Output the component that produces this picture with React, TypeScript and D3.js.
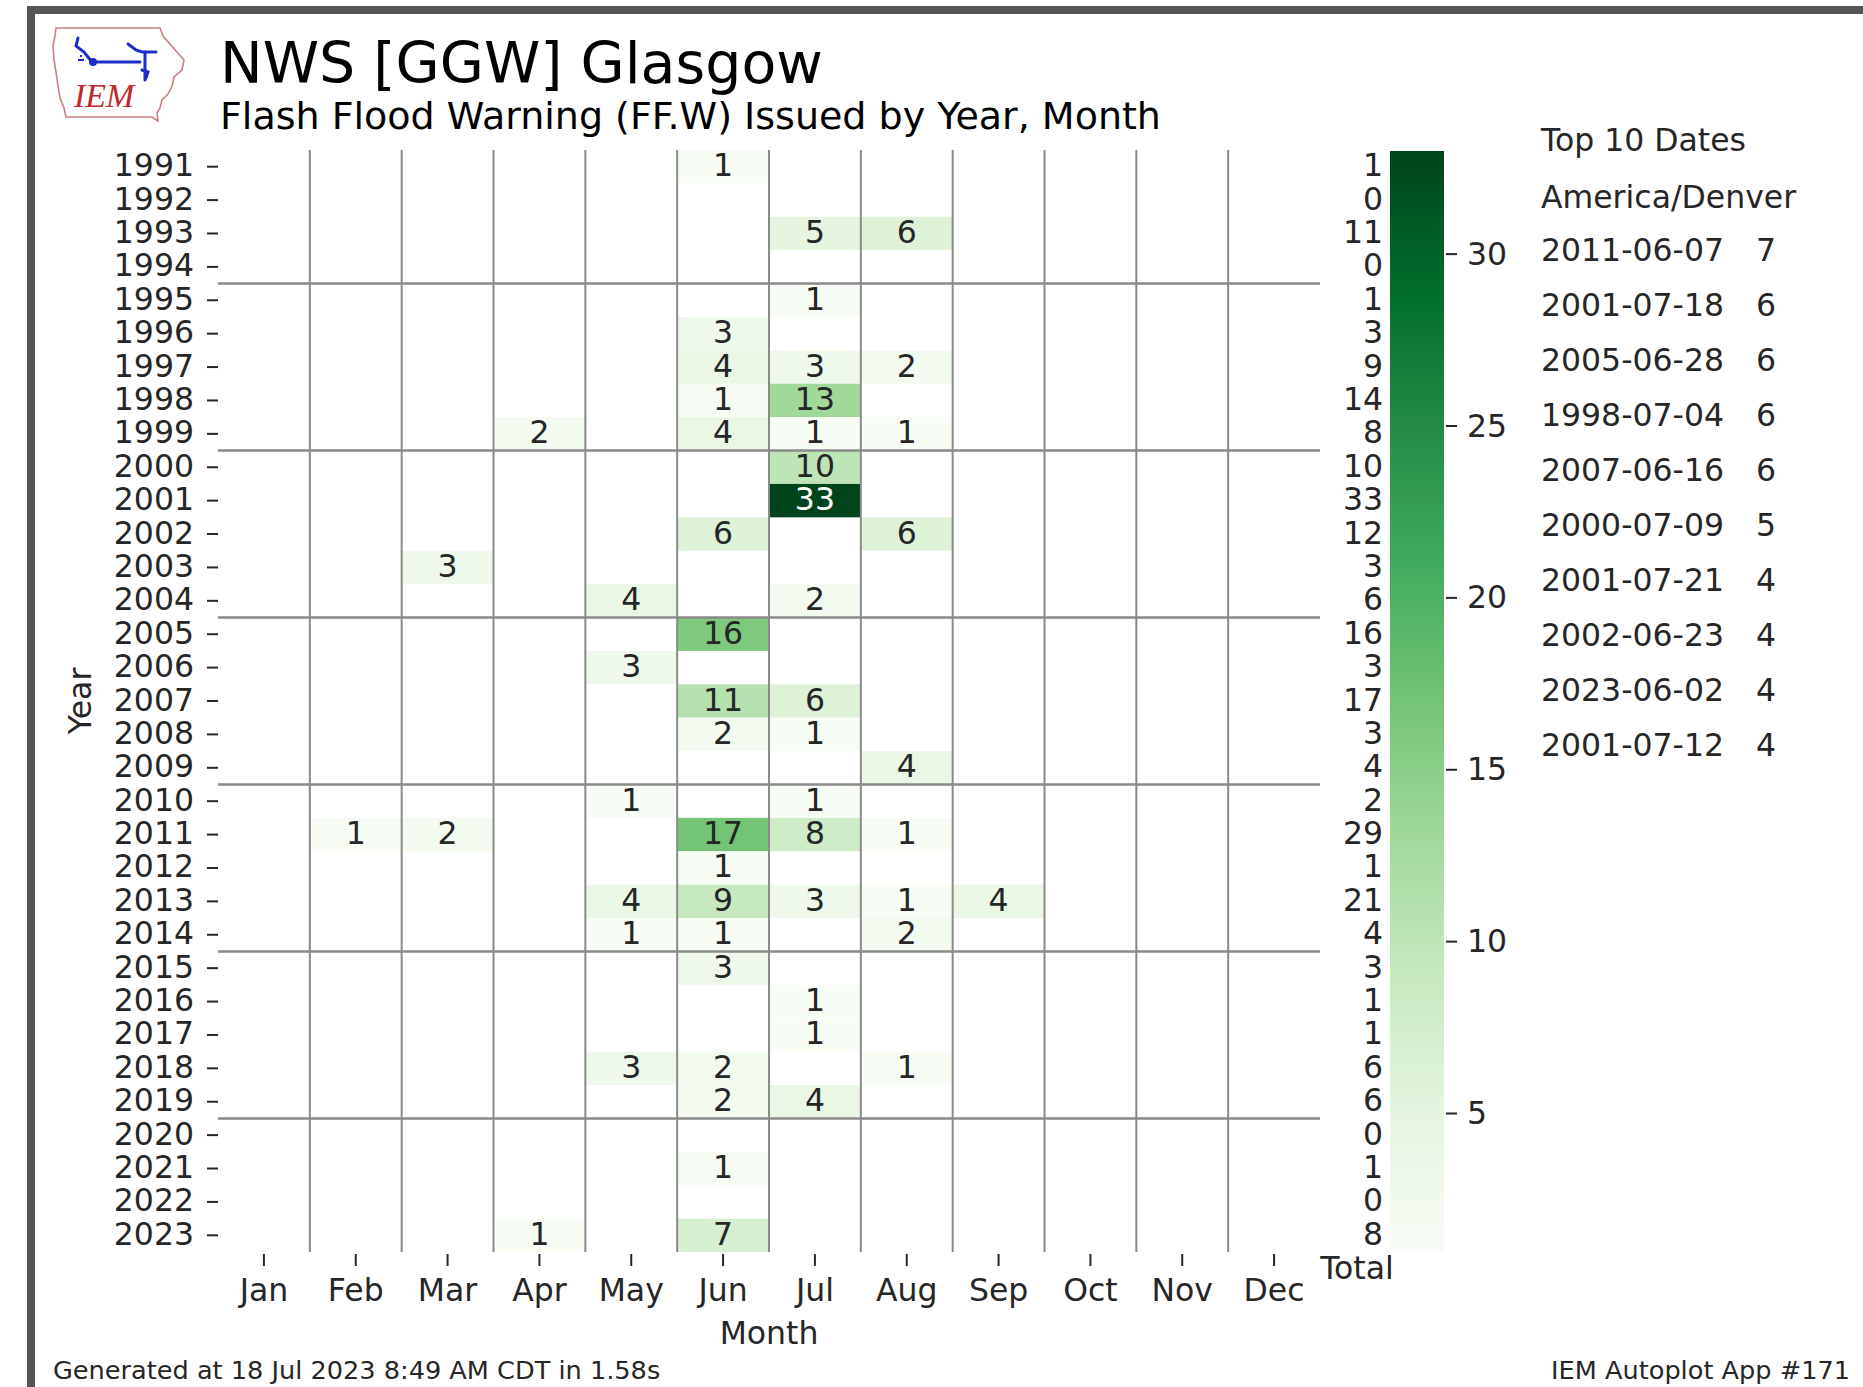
import React from "react";
import * as d3 from "d3";

const months = ["Jan", "Feb", "Mar", "Apr", "May", "Jun", "Jul", "Aug", "Sep", "Oct", "Nov", "Dec"];
const years = [
  "1991", "1992", "1993", "1994", "1995", "1996", "1997", "1998", "1999", "2000",
  "2001", "2002", "2003", "2004", "2005", "2006", "2007", "2008", "2009", "2010",
  "2011", "2012", "2013", "2014", "2015", "2016", "2017", "2018", "2019", "2020",
  "2021", "2022", "2023",
];
// counts[year][month], 0 = no warnings (blank cell)
const counts = [
  [0, 0, 0, 0, 0, 1, 0, 0, 0, 0, 0, 0], // 1991
  [0, 0, 0, 0, 0, 0, 0, 0, 0, 0, 0, 0], // 1992
  [0, 0, 0, 0, 0, 0, 5, 6, 0, 0, 0, 0], // 1993
  [0, 0, 0, 0, 0, 0, 0, 0, 0, 0, 0, 0], // 1994
  [0, 0, 0, 0, 0, 0, 1, 0, 0, 0, 0, 0], // 1995
  [0, 0, 0, 0, 0, 3, 0, 0, 0, 0, 0, 0], // 1996
  [0, 0, 0, 0, 0, 4, 3, 2, 0, 0, 0, 0], // 1997
  [0, 0, 0, 0, 0, 1, 13, 0, 0, 0, 0, 0], // 1998
  [0, 0, 0, 2, 0, 4, 1, 1, 0, 0, 0, 0], // 1999
  [0, 0, 0, 0, 0, 0, 10, 0, 0, 0, 0, 0], // 2000
  [0, 0, 0, 0, 0, 0, 33, 0, 0, 0, 0, 0], // 2001
  [0, 0, 0, 0, 0, 6, 0, 6, 0, 0, 0, 0], // 2002
  [0, 0, 3, 0, 0, 0, 0, 0, 0, 0, 0, 0], // 2003
  [0, 0, 0, 0, 4, 0, 2, 0, 0, 0, 0, 0], // 2004
  [0, 0, 0, 0, 0, 16, 0, 0, 0, 0, 0, 0], // 2005
  [0, 0, 0, 0, 3, 0, 0, 0, 0, 0, 0, 0], // 2006
  [0, 0, 0, 0, 0, 11, 6, 0, 0, 0, 0, 0], // 2007
  [0, 0, 0, 0, 0, 2, 1, 0, 0, 0, 0, 0], // 2008
  [0, 0, 0, 0, 0, 0, 0, 4, 0, 0, 0, 0], // 2009
  [0, 0, 0, 0, 1, 0, 1, 0, 0, 0, 0, 0], // 2010
  [0, 1, 2, 0, 0, 17, 8, 1, 0, 0, 0, 0], // 2011
  [0, 0, 0, 0, 0, 1, 0, 0, 0, 0, 0, 0], // 2012
  [0, 0, 0, 0, 4, 9, 3, 1, 4, 0, 0, 0], // 2013
  [0, 0, 0, 0, 1, 1, 0, 2, 0, 0, 0, 0], // 2014
  [0, 0, 0, 0, 0, 3, 0, 0, 0, 0, 0, 0], // 2015
  [0, 0, 0, 0, 0, 0, 1, 0, 0, 0, 0, 0], // 2016
  [0, 0, 0, 0, 0, 0, 1, 0, 0, 0, 0, 0], // 2017
  [0, 0, 0, 0, 3, 2, 0, 1, 0, 0, 0, 0], // 2018
  [0, 0, 0, 0, 0, 2, 4, 0, 0, 0, 0, 0], // 2019
  [0, 0, 0, 0, 0, 0, 0, 0, 0, 0, 0, 0], // 2020
  [0, 0, 0, 0, 0, 1, 0, 0, 0, 0, 0, 0], // 2021
  [0, 0, 0, 0, 0, 0, 0, 0, 0, 0, 0, 0], // 2022
  [0, 0, 0, 1, 0, 7, 0, 0, 0, 0, 0, 0], // 2023
];
const totals = [1, 0, 11, 0, 1, 3, 9, 14, 8, 10, 33, 12, 3, 6, 16, 3, 17, 3, 4, 2, 29, 1, 21, 4, 3, 1, 1, 6, 6, 0, 1, 0, 8];
const colorbarTicks = [5, 10, 15, 20, 25, 30];
const topDates = ["2011-06-07", "2001-07-18", "2005-06-28", "1998-07-04", "2007-06-16", "2000-07-09", "2001-07-21", "2002-06-23", "2023-06-02", "2001-07-12"];
const topCounts = [7, 6, 6, 6, 6, 5, 4, 4, 4, 4];
const greens = ["#f7fcf5", "#e5f5e0", "#c7e9c0", "#a1d99b", "#74c476", "#41ab5d", "#238b45", "#006d2c", "#00441b"];
const vmin = 1;
const vmax = 33;

const W = 1863;
const H = 1387;
const FONT = "'DejaVu Sans', sans-serif";

export default function App() {
  const x = d3.scaleBand<string>().domain(months).range([218, 1320]);
  const y = d3.scaleBand<string>().domain(years).range([150, 1252]);
  const stops = greens.map((_, i) => vmin + (i * (vmax - vmin)) / (greens.length - 1));
  const color = d3.scaleLinear<string>().domain(stops).range(greens).interpolate(d3.interpolateRgb).clamp(true);
  const cb = d3.scaleLinear().domain([vmin, vmax]).range([1251, 151]);
  const cbX0 = 1390;
  const cbX1 = 1444;
  const textColor = (v: number) => {
    const c = d3.rgb(color(v));
    const lum = (0.299 * c.r + 0.587 * c.g + 0.114 * c.b) / 255;
    return lum < 0.45 ? "#ffffff" : "#262626";
  };
  const fs = 31.5;
  const off = 9.5;
  const ink = "#262626";
  const gx0 = x.range()[0];
  const gx1 = x.range()[1];
  const gy0 = y.range()[0];
  const gy1 = y.range()[1];

  return (
    <div style={{ position: "absolute", left: 0, top: 0, width: W, height: H, background: "#fff" }}>
      <svg width={W} height={H} viewBox={`0 0 ${W} ${H}`} style={{ display: "block", fontFamily: FONT }}>
        <defs>
          <linearGradient id="cbgrad" x1="0" y1="1" x2="0" y2="0">
            {stops.map((s, i) => (
              <stop key={i} offset={(s - vmin) / (vmax - vmin)} stopColor={greens[i]} />
            ))}
          </linearGradient>
        </defs>
        <rect x={0} y={0} width={W} height={H} fill="#fff" />
        {/* frame */}
        <rect x={31} y={10} width={W + 20} height={H + 20} fill="none" stroke="#555555" strokeWidth={8} />

        {/* logo */}
        <g>
          <path
            d="M56,28 L160,28 L163,36 L170,44 L177,52 L184,60 L182,70 L174,77 L172,86 L168,94 L162,100 L160,108 L157,113 L158,121 L152,117 L66,117 L64,108 L60,98 L58,86 L56,72 L54,60 L53,46 L55,36 Z"
            fill="#ffffff"
            stroke="#c98080"
            strokeWidth={1.6}
          />
          <g stroke="#1a2ec8" strokeWidth={3} fill="none" strokeLinecap="round">
            <path d="M78,38 L76,46 L84,52 L92,62" />
            <path d="M92,62 L140,62" />
            <path d="M128,44 L136,50 L142,52 L156,52" />
            <path d="M145,52 L145,80" />
            <path d="M142,70 L148,72 L146,78" />
          </g>
          <circle cx={93} cy={62} r={4} fill="#1a2ec8" />
          <path d="M78,60 L84,60 M80,56 L82,56" stroke="#1a2ec8" strokeWidth={2} />
          <text x={74} y={107} fontFamily="'Liberation Serif', serif" fontStyle="italic" fontSize={34} fill="#c0282d">
            IEM
          </text>
        </g>

        {/* titles */}
        <text x={220} y={83} fontSize={57} fill="#000">NWS [GGW] Glasgow</text>
        <text x={220} y={129} fontSize={38} fill="#000">Flash Flood Warning (FF.W) Issued by Year, Month</text>

        {/* cells */}
        {counts.map((row, yi) =>
          row.map((v, mi) =>
            v > 0 ? (
              <rect
                key={`c${yi}-${mi}`}
                x={x(months[mi])}
                y={y(years[yi])}
                width={x.bandwidth()}
                height={y.bandwidth()}
                fill={color(v)}
              />
            ) : null
          )
        )}

        {/* grid lines */}
        {months.slice(1).map((m) => (
          <line key={`v${m}`} x1={x(m)} x2={x(m)} y1={gy0} y2={gy1} stroke="#8a8a8a" strokeWidth={2} />
        ))}
        {years
          .filter((yr, i) => i > 0 && +yr % 5 === 0)
          .map((yr) => (
            <line key={`h${yr}`} x1={gx0} x2={gx1} y1={y(yr)} y2={y(yr)} stroke="#8a8a8a" strokeWidth={2.5} />
          ))}

        {/* annotations */}
        {counts.map((row, yi) =>
          row.map((v, mi) =>
            v > 0 ? (
              <text
                key={`t${yi}-${mi}`}
                x={(x(months[mi]) as number) + x.bandwidth() / 2}
                y={(y(years[yi]) as number) + y.bandwidth() / 2 + off}
                textAnchor="middle"
                fontSize={fs}
                fill={textColor(v)}
              >
                {v}
              </text>
            ) : null
          )
        )}

        {/* y axis */}
        {years.map((yr) => {
          const cy = (y(yr) as number) + y.bandwidth() / 2;
          return (
            <g key={`y${yr}`}>
              <line x1={207} x2={218} y1={cy} y2={cy} stroke={ink} strokeWidth={2} />
              <text x={194} y={cy + off} textAnchor="end" fontSize={fs} fill={ink}>
                {yr}
              </text>
            </g>
          );
        })}
        <text transform={`translate(91,${(gy0 + gy1) / 2}) rotate(-90)`} textAnchor="middle" fontSize={fs} fill={ink}>
          Year
        </text>

        {/* x axis */}
        {months.map((m) => {
          const cx = (x(m) as number) + x.bandwidth() / 2;
          return (
            <g key={`x${m}`}>
              <line x1={cx} x2={cx} y1={1254} y2={1266} stroke={ink} strokeWidth={2} />
              <text x={cx} y={1301} textAnchor="middle" fontSize={fs} fill={ink}>
                {m}
              </text>
            </g>
          );
        })}
        <text x={(gx0 + gx1) / 2} y={1344} textAnchor="middle" fontSize={fs} fill={ink}>
          Month
        </text>

        {/* totals */}
        {totals.map((t, i) => (
          <text
            key={`tot${i}`}
            x={1383}
            y={(y(years[i]) as number) + y.bandwidth() / 2 + off}
            textAnchor="end"
            fontSize={fs}
            fill={ink}
          >
            {t}
          </text>
        ))}
        <text x={1357} y={1279} textAnchor="middle" fontSize={fs} fill={ink}>
          Total
        </text>

        {/* colorbar */}
        <rect x={cbX0} y={cb(vmax)} width={cbX1 - cbX0} height={cb(vmin) - cb(vmax)} fill="url(#cbgrad)" />
        {colorbarTicks.map((t) => (
          <g key={`cb${t}`}>
            <line x1={cbX1 + 2} x2={cbX1 + 13} y1={cb(t)} y2={cb(t)} stroke={ink} strokeWidth={2} />
            <text x={1467} y={cb(t) + off + 1} fontSize={fs} fill={ink}>
              {t}
            </text>
          </g>
        ))}

        {/* top 10 */}
        <text x={1541} y={151} fontSize={fs} fill={ink}>Top 10 Dates</text>
        <text x={1541} y={208} fontSize={fs} fill={ink}>America/Denver</text>
        {topDates.map((d, i) => (
          <g key={`td${i}`}>
            <text x={1541} y={261 + i * 55.05} fontSize={fs} fill={ink}>
              {d}
            </text>
            <text x={1756} y={261 + i * 55.05} fontSize={fs} fill={ink}>
              {topCounts[i]}
            </text>
          </g>
        ))}

        {/* footer */}
        <text x={53} y={1379} fontSize={25.6} fill={ink}>Generated at 18 Jul 2023 8:49 AM CDT in 1.58s</text>
        <text x={1850} y={1379} textAnchor="end" fontSize={25.6} fill={ink}>IEM Autoplot App #171</text>
      </svg>
    </div>
  );
}
